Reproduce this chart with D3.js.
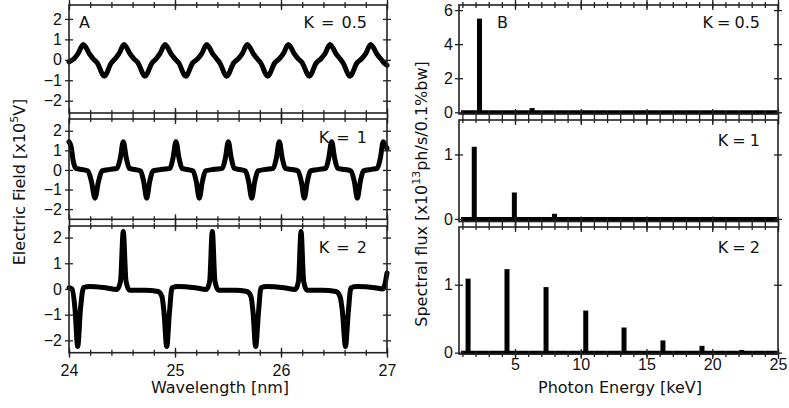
<!DOCTYPE html>
<html>
<head>
<meta charset="utf-8">
<script src="https://cdn.jsdelivr.net/npm/d3@7"></script>
<style>
body { margin: 0; background: #fff; }
svg { display: block; font-family: "DejaVu Sans", Verdana, sans-serif; }
.tick text { font-size: 16px; fill: #111; }
</style>
</head>
<body>
<svg id="chart" width="789" height="408"></svg>
<script>
// ---- data ----
var fieldTicks = [-2, -1, 0, 1, 2];
var wavelengthTicks = [24, 25, 26, 27];
var energyTicks = [5, 10, 15, 20, 25];
var kLabels = ["K = 0.5", "K = 1", "K = 2"];

// electric field [x10^5 V] vs wavelength [nm]
var fieldK05 = [
  [24.000, -0.10], [24.047, 0.05], [24.085, 0.30], [24.135, 0.75], [24.192, 0.30], [24.229, 0.05], [24.267, -0.15],
  [24.333, -0.80], [24.399, -0.15], [24.434, 0.05], [24.472, 0.30], [24.519, 0.75], [24.575, 0.30], [24.613, 0.05],
  [24.651, -0.15], [24.717, -0.80], [24.783, -0.15], [24.821, 0.05], [24.858, 0.30], [24.906, 0.75], [24.962, 0.30],
  [25.000, 0.05], [25.035, -0.15], [25.101, -0.80], [25.167, -0.15], [25.214, 0.05], [25.252, 0.30], [25.299, 0.75],
  [25.355, 0.30], [25.393, 0.05], [25.422, -0.15], [25.488, -0.80], [25.554, -0.15], [25.597, 0.05], [25.635, 0.30],
  [25.682, 0.75], [25.739, 0.30], [25.776, 0.05], [25.808, -0.15], [25.875, -0.80], [25.941, -0.15], [25.984, 0.05],
  [26.022, 0.30], [26.069, 0.75], [26.125, 0.30], [26.163, 0.05], [26.201, -0.15], [26.267, -0.80], [26.333, -0.15],
  [26.377, 0.05], [26.415, 0.30], [26.462, 0.75], [26.519, 0.30], [26.557, 0.05], [26.585, -0.15], [26.651, -0.80],
  [26.717, -0.15], [26.761, 0.05], [26.799, 0.30], [26.846, 0.75], [26.903, 0.30], [26.940, 0.05], [26.972, -0.15],
  [27.000, -0.27]
];

var fieldK1 = [
  [24.000, 1.44], [24.019, 1.20], [24.042, 0.40], [24.066, 0.08], [24.123, 0.02], [24.179, -0.05], [24.212, -0.60],
  [24.245, -1.44], [24.278, -0.60], [24.311, -0.05], [24.387, 0.03], [24.453, 0.08], [24.484, 0.60], [24.512, 1.44],
  [24.541, 0.60], [24.569, 0.08], [24.623, 0.02], [24.675, -0.05], [24.705, -0.60], [24.733, -1.44], [24.761, -0.60],
  [24.792, -0.05], [24.877, 0.03], [24.953, 0.08], [24.981, 0.60], [25.009, 1.44], [25.038, 0.60], [25.066, 0.08],
  [25.118, 0.02], [25.170, -0.05], [25.201, -0.60], [25.229, -1.44], [25.258, -0.60], [25.288, -0.05], [25.368, 0.03],
  [25.446, 0.08], [25.475, 0.60], [25.503, 1.44], [25.531, 0.60], [25.559, 0.08], [25.613, 0.02], [25.665, -0.05],
  [25.695, -0.60], [25.724, -1.44], [25.752, -0.60], [25.783, -0.05], [25.858, 0.03], [25.927, 0.08], [25.956, 0.60],
  [25.984, 1.44], [26.012, 0.60], [26.041, 0.08], [26.104, 0.02], [26.160, -0.05], [26.192, -0.60], [26.220, -1.44],
  [26.248, -0.60], [26.278, -0.05], [26.358, 0.03], [26.422, 0.08], [26.450, 0.60], [26.478, 1.44], [26.506, 0.60],
  [26.535, 0.08], [26.604, 0.02], [26.660, -0.05], [26.692, -0.60], [26.720, -1.44], [26.748, -0.60], [26.778, -0.05],
  [26.849, 0.03], [26.908, 0.08], [26.937, 0.60], [26.965, 1.44], [26.981, 1.30], [27.000, 1.10]
];

var fieldK2 = [
  [24.000, 0.05], [24.028, 0.00], [24.057, -0.80], [24.082, -2.24], [24.108, -0.80], [24.137, 0.05], [24.198, 0.10],
  [24.340, 0.05], [24.453, -0.02], [24.486, 0.30], [24.512, 2.24], [24.538, 0.30], [24.571, -0.05], [24.717, -0.05],
  [24.840, -0.10], [24.877, -0.30], [24.896, -0.90], [24.922, -2.24], [24.948, -0.90], [24.972, 0.05], [25.028, 0.10],
  [25.189, 0.05], [25.297, -0.02], [25.327, 0.30], [25.352, 2.24], [25.377, 0.30], [25.410, -0.05], [25.566, -0.05],
  [25.679, -0.10], [25.717, -0.30], [25.736, -0.90], [25.761, -2.24], [25.788, -0.90], [25.811, 0.05], [25.868, 0.10],
  [26.028, 0.05], [26.135, -0.02], [26.165, 0.30], [26.189, 2.24], [26.214, 0.30], [26.245, -0.05], [26.387, -0.05],
  [26.519, -0.10], [26.557, -0.30], [26.580, -0.90], [26.608, -2.24], [26.635, -0.90], [26.660, 0.05], [26.717, 0.10],
  [26.887, 0.05], [26.962, 0.00], [26.981, 0.20], [27.000, 0.62]
];

// spectral flux [x10^13 ph/s/0.1%bw] vs photon energy [keV]
var energyK05 = [2.3, 6.3];
var fluxK05 = [5.5, 0.25];
var energyK1 = [1.9, 4.95, 8.0];
var fluxK1 = [1.12, 0.41, 0.08];
var energyK2 = [1.43, 4.39, 7.36, 10.38, 13.29, 16.25, 19.22, 22.24];
var fluxK2 = [1.09, 1.23, 0.965, 0.62, 0.37, 0.18, 0.10, 0.04];
var fluxTicks = [[0, 2, 4, 6], [0, 1], [0, 1]];

// ---- layout ----
var svg = d3.select("#chart");
var leftX = [69, 387], rightX = [459, 778];
var leftRows = [[5, 113], [119, 219.3], [226, 352.7]];
var rightRows = [[5, 114], [120, 221.5], [227, 354]];
var fieldDomains = [[-2.6, 2.68], [-2.52, 2.6], [-2.48, 2.45]];
var fluxDomains = [[-0.1, 6.3], [-0.04, 1.535], [-0.02, 1.85]];
var labelY = [28, 143, 253];

var xWave = d3.scaleLinear().domain([24, 27]).range(leftX);
var xEnergy = d3.scaleLinear().domain([0.74, 25]).range(rightX);

var fields = [fieldK05, fieldK1, fieldK2];
var energies = [energyK05, energyK1, energyK2];
var fluxes = [fluxK05, fluxK1, fluxK2];

function crossTicks(g, axisA, axisB) {
  g.append("g").call(axisA);
  g.append("g").call(axisB.tickFormat(""));
  g.selectAll(".domain").remove();
  g.selectAll(".tick line").attr("stroke", "#222").attr("stroke-width", 1.3);
}

function drawFrame(x, rows) {
  svg.append("rect")
    .attr("x", x[0]).attr("y", rows[0])
    .attr("width", x[1] - x[0]).attr("height", rows[1] - rows[0])
    .attr("fill", "none").attr("stroke", "#222").attr("stroke-width", 1.6);
}

// ---- left column: electric field ----
fields.forEach(function (data, i) {
  var rows = leftRows[i];
  var y = d3.scaleLinear().domain(fieldDomains[i]).range([rows[1], rows[0]]);
  var isLast = i === 2;

  var line = d3.line()
    .x(function (d) { return xWave(d[0]); })
    .y(function (d) { return y(d[1]); })
    .curve(d3.curveMonotoneX);

  svg.append("path")
    .datum(data)
    .attr("d", line)
    .attr("fill", "none")
    .attr("stroke", "#000")
    .attr("stroke-width", 5)
    .attr("stroke-linejoin", "round")
    .attr("stroke-linecap", "round");

  drawFrame(leftX, rows);

  // y ticks on both sides
  var gl = svg.append("g").attr("transform", "translate(" + leftX[0] + ",0)");
  crossTicks(gl, d3.axisLeft(y).tickValues(fieldTicks).tickSize(4).tickPadding(3).tickFormat(d3.format("d")),
    d3.axisRight(y).tickValues(fieldTicks).tickSize(4));
  var gr = svg.append("g").attr("transform", "translate(" + leftX[1] + ",0)");
  crossTicks(gr, d3.axisLeft(y).tickValues(fieldTicks).tickSize(4).tickFormat(""),
    d3.axisRight(y).tickValues(fieldTicks).tickSize(4));

  // x ticks top and bottom, minor every 0.2 nm
  var minor = d3.range(24, 27.001, 0.2);
  [rows[0], rows[1]].forEach(function (yy, k) {
    var g = svg.append("g").attr("transform", "translate(0," + yy + ")");
    crossTicks(g, d3.axisBottom(xWave).tickValues(minor).tickSize(3).tickFormat(""),
      d3.axisTop(xWave).tickValues(minor).tickSize(3));
    var gm = svg.append("g").attr("transform", "translate(0," + yy + ")");
    var major = d3.axisBottom(xWave).tickValues(wavelengthTicks).tickSize(5).tickPadding(7)
      .tickFormat(d3.format("d"));
    if (!(isLast && k === 1)) major.tickFormat("");
    crossTicks(gm, major, d3.axisTop(xWave).tickValues(wavelengthTicks).tickSize(5));
  });

  svg.append("text")
    .attr("x", 367).attr("y", labelY[i])
    .attr("text-anchor", "end")
    .attr("font-size", 16)
    .attr("fill", "#111")
    .attr("word-spacing", 2)
    .text(kLabels[i]);
});

// ---- right column: spectral flux ----
energies.forEach(function (en, i) {
  var rows = rightRows[i];
  var y = d3.scaleLinear().domain(fluxDomains[i]).range([rows[1], rows[0]]);
  var isLast = i === 2;
  var bars = en.map(function (e, j) { return { e: e, v: fluxes[i][j] }; });

  // baseline at zero
  svg.append("line")
    .attr("x1", rightX[0] + 2).attr("x2", rightX[1] - 1)
    .attr("y1", y(0)).attr("y2", y(0))
    .attr("stroke", "#000").attr("stroke-width", 4);

  svg.selectAll(".bar" + i)
    .data(bars)
    .enter().append("rect")
    .attr("class", "bar" + i)
    .attr("x", function (d) { return xEnergy(d.e) - 2.5; })
    .attr("width", 5)
    .attr("y", function (d) { return y(d.v); })
    .attr("height", function (d) { return y(0) - y(d.v); })
    .attr("fill", "#000");

  drawFrame(rightX, rows);

  var gl = svg.append("g").attr("transform", "translate(" + rightX[0] + ",0)");
  crossTicks(gl, d3.axisLeft(y).tickValues(fluxTicks[i]).tickSize(4).tickPadding(2).tickFormat(d3.format("d")),
    d3.axisRight(y).tickValues(fluxTicks[i]).tickSize(4));
  var gr = svg.append("g").attr("transform", "translate(" + rightX[1] + ",0)");
  crossTicks(gr, d3.axisLeft(y).tickValues(fluxTicks[i]).tickSize(4).tickFormat(""),
    d3.axisRight(y).tickValues(fluxTicks[i]).tickSize(4));

  var minor = d3.range(1, 25.001, 1);
  [rows[0], rows[1]].forEach(function (yy, k) {
    var g = svg.append("g").attr("transform", "translate(0," + yy + ")");
    crossTicks(g, d3.axisBottom(xEnergy).tickValues(minor).tickSize(3).tickFormat(""),
      d3.axisTop(xEnergy).tickValues(minor).tickSize(3));
    var gm = svg.append("g").attr("transform", "translate(0," + yy + ")");
    var major = d3.axisBottom(xEnergy).tickValues(energyTicks).tickSize(5).tickPadding(0)
      .tickFormat(d3.format("d"));
    if (!(isLast && k === 1)) major.tickFormat("");
    crossTicks(gm, major, d3.axisTop(xEnergy).tickValues(energyTicks).tickSize(5));
  });

  svg.append("text")
    .attr("x", 760).attr("y", labelY[i] + (i === 1 ? 3 : 0))
    .attr("text-anchor", "end")
    .attr("font-size", 16)
    .attr("fill", "#111")
    .attr("word-spacing", -1)
    .text(kLabels[i]);
});

// panel letters
svg.append("text").attr("x", 79).attr("y", 28).attr("font-size", 16).attr("fill", "#111").text("A");
svg.append("text").attr("x", 497).attr("y", 28).attr("font-size", 16).attr("fill", "#111").text("B");

// axis titles
svg.append("text")
  .attr("x", 220).attr("y", 393)
  .attr("text-anchor", "middle").attr("font-size", 16).attr("fill", "#111")
  .text("Wavelength [nm]");
svg.append("text")
  .attr("x", 620).attr("y", 393)
  .attr("text-anchor", "middle").attr("font-size", 16).attr("fill", "#111")
  .text("Photon Energy [keV]");

var yt1 = svg.append("text")
  .attr("transform", "translate(25,182) rotate(-90)")
  .attr("text-anchor", "middle").attr("font-size", 16).attr("fill", "#111");
yt1.append("tspan").text("Electric Field [x10");
yt1.append("tspan").attr("dy", -7).attr("font-size", 11).text("5");
yt1.append("tspan").attr("dy", 7).text("V]");

var yt2 = svg.append("text")
  .attr("transform", "translate(427,194) rotate(-90)")
  .attr("text-anchor", "middle").attr("font-size", 16).attr("fill", "#111");
yt2.append("tspan").text("Spectral flux [x10");
yt2.append("tspan").attr("dy", -7).attr("font-size", 11).text("13");
yt2.append("tspan").attr("dy", 7).text("ph/s/0.1%bw]");
</script>
</body>
</html>
